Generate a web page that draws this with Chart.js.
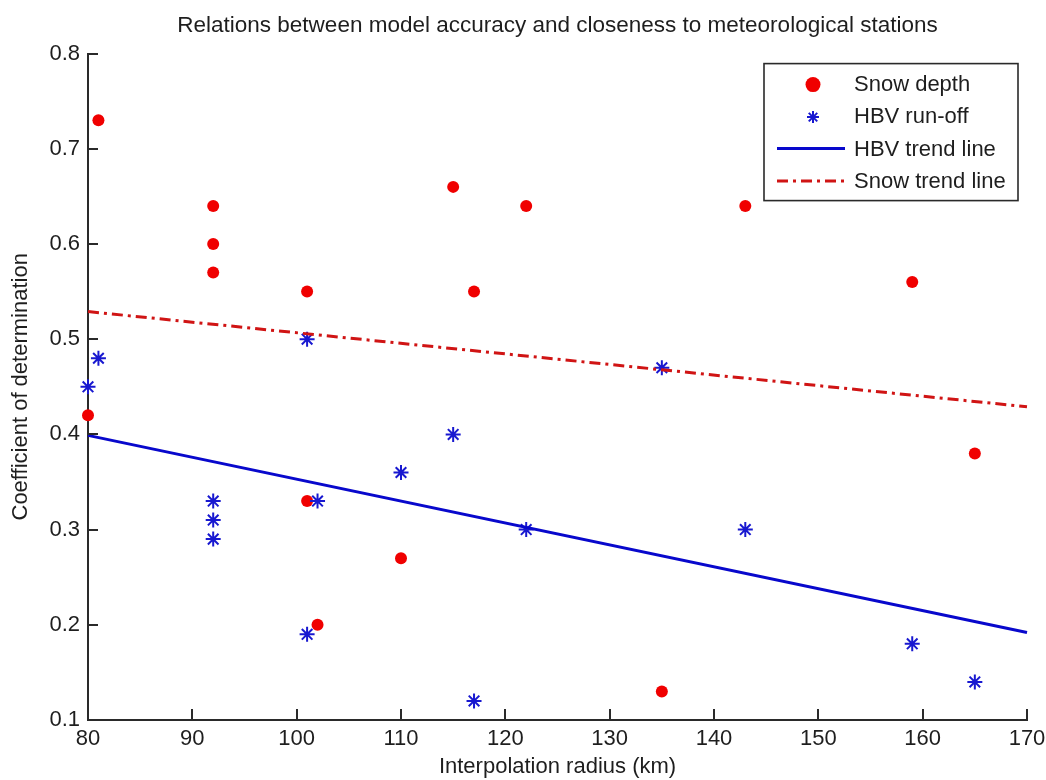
<!DOCTYPE html>
<html><head><meta charset="utf-8">
<script src="https://cdn.jsdelivr.net/npm/chart.js@4"></script>
<style>html,body{margin:0;padding:0;background:#fff}#wrap{width:1046px;height:780px;position:relative}</style>
</head><body><div id="wrap"><canvas id="c" width="1046" height="780" style="width:1046px;height:780px"></canvas></div>
<script>
// ---- data ----
const snowRadius   = [81, 80, 92, 92, 92, 101, 101, 102, 110, 115, 117, 122, 135, 143, 159, 165];
const snowDepthR2  = [0.73, 0.42, 0.64, 0.60, 0.57, 0.55, 0.33, 0.20, 0.27, 0.66, 0.55, 0.64, 0.13, 0.64, 0.56, 0.38];
const hbvRadius    = [80, 81, 92, 92, 92, 101, 101, 102, 110, 115, 117, 122, 135, 143, 159, 165];
const hbvRunoffR2  = [0.45, 0.48, 0.33, 0.31, 0.29, 0.50, 0.19, 0.33, 0.36, 0.40, 0.12, 0.30, 0.47, 0.30, 0.18, 0.14];
const trendRadius  = [80, 170];
const hbvTrendR2   = [0.399, 0.192];
const snowTrendR2  = [0.529, 0.429];
const xTickValues  = [80, 90, 100, 110, 120, 130, 140, 150, 160, 170];
const yTickValues  = [0.1, 0.2, 0.3, 0.4, 0.5, 0.6, 0.7, 0.8];
const seriesLabels = ['Snow depth', 'HBV run-off', 'HBV trend line', 'Snow trend line'];
const chartTitle   = 'Relations between model accuracy and closeness to meteorological stations';
const xTitle       = 'Interpolation radius (km)';
const yTitle       = 'Coefficient of determination';

const FONT = 'Liberation Sans, Arial, sans-serif';
const TXT = '#1e1e1e';
const AXIS = '#2a2a2a';
const RED = '#f00000';
const BLUE = '#1818d0';
const LINEBLUE = '#0808cc';
const LINERED = '#d01414';

const pts = (xs, ys) => xs.map((x, i) => ({x, y: ys[i]}));

const inwardTicks = {
  id: 'inwardTicks',
  afterDatasetsDraw(chart) {
    const {ctx, chartArea: a, scales: {x, y}} = chart;
    ctx.save();
    ctx.strokeStyle = AXIS;
    ctx.lineWidth = 2;
    ctx.beginPath();
    x.ticks.forEach(t => {
      const px = Math.round(x.getPixelForValue(t.value));
      ctx.moveTo(px, a.bottom); ctx.lineTo(px, a.bottom - 11);
    });
    y.ticks.forEach(t => {
      const py = Math.round(y.getPixelForValue(t.value));
      ctx.moveTo(a.left, py); ctx.lineTo(a.left + 10, py);
    });
    ctx.stroke();
    ctx.restore();
  }
};

const boxLegend = {
  id: 'boxLegend',
  afterDraw(chart) {
    const {ctx, chartArea: a} = chart;
    const dsets = chart.data.datasets;
    const right = a.right - 9, top = a.top + 10;
    const w = 254, h = 137;
    const left = right - w;
    ctx.save();
    ctx.fillStyle = '#fff';
    ctx.fillRect(left, top, w, h);
    ctx.strokeStyle = AXIS;
    ctx.lineWidth = 1.6;
    ctx.strokeRect(left, top, w, h);
    ctx.font = '22px ' + FONT;
    ctx.textBaseline = 'middle';
    ctx.textAlign = 'left';
    const symX = left + 49, lineL = left + 13, lineR = left + 81, textX = left + 90;
    dsets.forEach((d, i) => {
      const cy = top + 21 + 32.5 * i;
      ctx.save();
      if (d.showLine) {
        ctx.strokeStyle = d.borderColor;
        ctx.lineWidth = d.borderWidth;
        ctx.setLineDash(d.borderDash || []);
        ctx.beginPath();
        ctx.moveTo(lineL, cy - 1); ctx.lineTo(lineR, cy - 1);
        ctx.stroke();
      } else {
        ctx.fillStyle = d.backgroundColor;
        ctx.strokeStyle = d.borderColor;
        ctx.lineWidth = d.borderWidth || 0;
        Chart.helpers.drawPoint(ctx, {
          pointStyle: d.pointStyle,
          radius: d.pointStyle === 'circle' ? 7.5 : 6,
          borderWidth: d.borderWidth
        }, symX, cy);
      }
      ctx.restore();
      ctx.fillStyle = TXT;
      ctx.fillText(d.label, textX, cy);
    });
    ctx.restore();
  }
};

new Chart(document.getElementById('c'), {
  type: 'scatter',
  data: {
    datasets: [
      {label: seriesLabels[0], data: pts(snowRadius, snowDepthR2), showLine: false, order: 4,
       pointStyle: 'circle', pointRadius: 6, backgroundColor: RED, borderColor: RED, borderWidth: 0},
      {label: seriesLabels[1], data: pts(hbvRadius, hbvRunoffR2), showLine: false, order: 3,
       pointStyle: 'star', pointRadius: 7.5, backgroundColor: BLUE, borderColor: BLUE, borderWidth: 2},
      {label: seriesLabels[2], data: pts(trendRadius, hbvTrendR2), showLine: true, order: 2,
       pointRadius: 0, borderColor: LINEBLUE, backgroundColor: LINEBLUE, borderWidth: 3},
      {label: seriesLabels[3], data: pts(trendRadius, snowTrendR2), showLine: true, order: 1,
       pointRadius: 0, borderColor: LINERED, backgroundColor: LINERED, borderWidth: 3, borderDash: [11, 5, 3, 5]}
    ]
  },
  options: {
    responsive: false,
    maintainAspectRatio: false,
    animation: false,
    devicePixelRatio: 1,
    datasets: {scatter: {clip: false}},
    layout: {padding: {left: 0, right: 19, top: 0, bottom: 0}},
    plugins: {
      legend: {display: false},
      tooltip: {enabled: false},
      title: {display: true, text: chartTitle, fullSize: false, color: TXT,
              font: {family: FONT, size: 22.5, weight: 'normal'}, padding: {top: 12, bottom: 14.6}}
    },
    scales: {
      x: {
        type: 'linear', min: 80, max: 170,
        afterBuildTicks: s => { s.ticks = xTickValues.map(v => ({value: v})); },
        afterFit: s => { s.height = 60; s.paddingLeft = 0; s.paddingRight = 0; },
        grid: {display: false, drawTicks: false},
        border: {display: true, color: AXIS, width: 2},
        ticks: {color: TXT, font: {family: FONT, size: 22}, padding: 6, maxRotation: 0, autoSkip: false},
        title: {display: true, text: xTitle, color: TXT, font: {family: FONT, size: 22}, padding: {top: 0, bottom: 0}}
      },
      y: {
        type: 'linear', min: 0.1, max: 0.8,
        afterBuildTicks: s => { s.ticks = yTickValues.map(v => ({value: v})); },
        afterFit: s => { s.width = 88; },
        grid: {display: false, drawTicks: false},
        border: {display: true, color: AXIS, width: 2},
        ticks: {color: TXT, font: {family: FONT, size: 22}, padding: 8, autoSkip: false,
                callback: v => v.toFixed(1)},
        title: {display: true, text: yTitle, color: TXT, font: {family: FONT, size: 22}, padding: {top: 8, bottom: 0}}
      }
    }
  },
  plugins: [inwardTicks, boxLegend]
});
</script>
</body></html>
